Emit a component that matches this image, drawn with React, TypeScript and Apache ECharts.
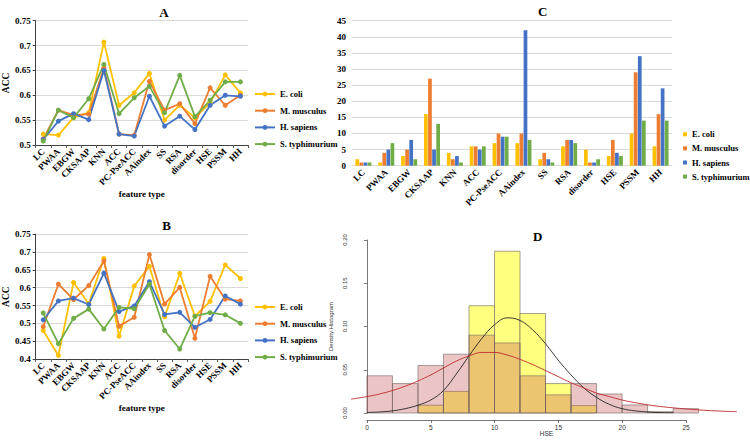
import React, { useEffect, useRef } from "react";
import * as echarts from "echarts";

// ---------- data ----------
const features = ["LC", "PWAA", "EBGW", "CKSAAP", "KNN", "ACC", "PC-PseACC", "AAindex", "SS", "RSA", "disorder", "HSE", "PSSM", "HH"];
const speciesNames = ["E. coli", "M. musculus", "H. sapiens", "S. typhimurium"];
const speciesColors = ["#FFC000", "#ED7D31", "#4472C4", "#70AD47"];

// Panel A (ACC)
const accAEcoli = [0.522, 0.520, 0.555, 0.565, 0.707, 0.580, 0.605, 0.644, 0.550, 0.580, 0.555, 0.585, 0.641, 0.605];
const accAMus = [0.512, 0.570, 0.560, 0.562, 0.655, 0.522, 0.520, 0.628, 0.570, 0.583, 0.543, 0.615, 0.580, 0.600];
const accAHsa = [0.511, 0.548, 0.563, 0.551, 0.650, 0.522, 0.518, 0.598, 0.538, 0.558, 0.531, 0.580, 0.600, 0.598];
const accASty = [0.508, 0.570, 0.555, 0.593, 0.662, 0.563, 0.595, 0.618, 0.565, 0.640, 0.557, 0.590, 0.627, 0.627];

// Panel B (ACC)
const accBEcoli = [0.480, 0.410, 0.615, 0.555, 0.682, 0.464, 0.605, 0.660, 0.518, 0.640, 0.520, 0.562, 0.664, 0.626];
const accBMus = [0.491, 0.610, 0.567, 0.606, 0.675, 0.492, 0.517, 0.693, 0.554, 0.601, 0.458, 0.632, 0.568, 0.563];
const accBHsa = [0.510, 0.563, 0.571, 0.553, 0.641, 0.533, 0.549, 0.617, 0.525, 0.531, 0.489, 0.511, 0.577, 0.554];
const accBSty = [0.529, 0.443, 0.514, 0.540, 0.484, 0.545, 0.541, 0.610, 0.480, 0.428, 0.520, 0.530, 0.524, 0.500];

// Panel C (counts)
const cntEcoli = [2, 1, 3, 16, 4, 6, 7, 7, 2, 6, 5, 3, 10, 6];
const cntMus = [1, 4, 5, 27, 2, 6, 10, 10, 4, 8, 1, 8, 29, 16];
const cntHsa = [1, 5, 8, 5, 3, 5, 9, 42, 2, 8, 1, 4, 34, 24];
const cntSty = [1, 7, 2, 13, 1, 6, 9, 8, 1, 7, 2, 3, 14, 14];

// Panel D (density histogram of HSE)
const binStarts = [0, 2, 4, 6, 8, 10, 12, 14, 16, 18, 20, 22, 24];
const binWidth = 2;
const histPink = [0.043, 0.034, 0.055, 0.068, 0.090, 0.081, 0.043, 0.021, 0.034, 0.022, 0.0093, 0.0015, 0.005];
const histYellow = [0, 0, 0.009, 0.025, 0.124, 0.187, 0.115, 0.034, 0.0085, 0, 0, 0, 0];
const blackCurveX = [0, 1, 2, 3, 4, 5, 6, 7, 8, 9, 10, 11, 12, 13, 14, 15, 16, 17, 18, 19, 20, 21, 22, 23, 24];
const blackCurveY = [0.0006, 0.0012, 0.0025, 0.005, 0.009, 0.015, 0.026, 0.045, 0.066, 0.086, 0.102, 0.110, 0.107, 0.096, 0.080, 0.061, 0.044, 0.029, 0.018, 0.010, 0.005, 0.0025, 0.0012, 0.0005, 0.0002];
const redCurveX = [-1.25, 0, 1, 2, 3, 4, 5, 6, 7, 8, 9, 10, 11, 12, 13, 14, 15, 16, 17, 18, 19, 20, 21, 22, 23, 24, 25, 26, 27, 28, 29];
const redCurveY = [0.016, 0.019, 0.022, 0.026, 0.031, 0.037, 0.044, 0.052, 0.060, 0.066, 0.070, 0.070, 0.067, 0.062, 0.056, 0.049, 0.042, 0.035, 0.029, 0.023, 0.019, 0.015, 0.012, 0.0095, 0.0075, 0.006, 0.0047, 0.0036, 0.0027, 0.002, 0.0015];
const dYTicks = [0, 0.05, 0.1, 0.15, 0.2];

const SERIF = "'Liberation Serif', 'Times New Roman', serif";
const SANS = "'Liberation Sans', Arial, sans-serif";

function lineSeries(name: string, data: number[], color: string, idx: number) {
  return {
    type: "line",
    name,
    xAxisIndex: idx,
    yAxisIndex: idx,
    data,
    symbol: "circle",
    symbolSize: 5,
    color,
    lineStyle: { width: 1.8, color },
    itemStyle: { color },
  };
}

function histSeries(name: string, values: number[], fill: string, z: number) {
  return {
    type: "custom",
    name,
    xAxisIndex: 3,
    yAxisIndex: 3,
    z,
    data: binStarts.map((b, i) => [b, b + binWidth, values[i]]),
    encode: { x: [0, 1], y: 2 },
    renderItem: (params: any, api: any) => {
      const h = api.value(2);
      if (!h) return null;
      const p0 = api.coord([api.value(0), h]);
      const p1 = api.coord([api.value(1), 0]);
      return {
        type: "rect",
        shape: { x: p0[0], y: p0[1], width: p1[0] - p0[0], height: p1[1] - p0[1] },
        style: { fill, stroke: "rgba(110,100,95,0.75)", lineWidth: 0.8 },
      };
    },
  };
}

function catXAxis(grid: number, withTicks: boolean, lineColor: string, nameGap: number, named: boolean) {
  return {
    type: "category",
    gridIndex: grid,
    data: features,
    boundaryGap: true,
    name: named ? "feature type" : "",
    nameLocation: "middle",
    nameGap,
    nameTextStyle: { fontFamily: SERIF, fontWeight: "bold", fontSize: 9, color: "#000" },
    axisLine: { show: true, lineStyle: { color: lineColor, width: 1 } },
    axisTick: { show: withTicks, length: 3, alignWithLabel: false, lineStyle: { color: "#595959" } },
    axisLabel: { interval: 0, rotate: 45, margin: 5, fontFamily: SERIF, fontWeight: "bold", fontSize: 9, color: "#000" },
    splitLine: { show: false },
  };
}

function accYAxis(grid: number, min: number) {
  return {
    type: "value",
    gridIndex: grid,
    min,
    max: 0.75,
    interval: 0.05,
    name: "ACC",
    nameLocation: "middle",
    nameGap: 20,
    nameTextStyle: { fontFamily: SERIF, fontWeight: "bold", fontSize: 9.5, color: "#000" },
    axisLine: { show: true, lineStyle: { color: "#404040", width: 1 } },
    axisTick: { show: true, length: 3, lineStyle: { color: "#404040" } },
    axisLabel: { margin: 5, fontFamily: SERIF, fontWeight: "bold", fontSize: 9, color: "#000" },
    splitLine: { show: true, lineStyle: { color: "#D9D9D9", width: 1 } },
  };
}

function lineLegend(top: number) {
  return {
    data: speciesNames,
    orient: "vertical",
    left: 249,
    top,
    itemWidth: 20,
    itemHeight: 6,
    itemGap: 6.7,
    selectedMode: false,
    textStyle: { fontFamily: SERIF, fontWeight: "bold", fontSize: 8.5, color: "#000", lineHeight: 10 },
  };
}

export default function App() {
  const ref = useRef<HTMLDivElement>(null);

  useEffect(() => {
    document.body.style.margin = "0";
    if (!ref.current) return;
    const chart = echarts.init(ref.current, undefined, { renderer: "svg" });

    const aSets = [accAEcoli, accAMus, accAHsa, accASty];
    const bSets = [accBEcoli, accBMus, accBHsa, accBSty];
    const cSets = [cntEcoli, cntMus, cntHsa, cntSty];

    const titleStyle = { fontFamily: SERIF, fontWeight: "bold", fontSize: 13, fill: "#000" };

    const option: any = {
      animation: false,
      backgroundColor: "#fff",
      graphic: [
        { type: "text", x: 164, y: 12, style: { ...titleStyle, text: "A", textAlign: "center", textVerticalAlign: "middle" } },
        { type: "text", x: 166.7, y: 225, style: { ...titleStyle, text: "B", textAlign: "center", textVerticalAlign: "middle" } },
        { type: "text", x: 542.7, y: 11, style: { ...titleStyle, text: "C", textAlign: "center", textVerticalAlign: "middle" } },
        { type: "text", x: 537.7, y: 236, style: { ...titleStyle, text: "D", textAlign: "center", textVerticalAlign: "middle" } },
      ],
      legend: [
        lineLegend(84),
        lineLegend(297),
        {
          data: speciesNames,
          orient: "vertical",
          left: 678,
          top: 124.3,
          icon: "rect",
          itemWidth: 4,
          itemHeight: 4,
          itemGap: 4.1,
          selectedMode: false,
          textStyle: { fontFamily: SERIF, fontWeight: "bold", fontSize: 8.5, color: "#000", lineHeight: 10 },
        },
      ],
      grid: [
        { left: 32, top: 20.7, width: 216, height: 124.3 },
        { left: 32, top: 234.3, width: 216, height: 124.7 },
        { left: 352, top: 20.7, width: 320, height: 145 },
        { left: 351, top: 240, width: 391, height: 173 },
        { left: 367, top: 419, width: 319, height: 1 },
      ],
      xAxis: [
        catXAxis(0, true, "#404040", 43.5, true),
        catXAxis(1, true, "#404040", 43, true),
        catXAxis(2, false, "#D9D9D9", 40, false),
        {
          type: "value",
          gridIndex: 3,
          min: -1.25,
          max: 29.4,
          name: "HSE",
          nameLocation: "middle",
          nameGap: 16.5,
          nameTextStyle: { fontFamily: SANS, fontSize: 6.5, color: "#333" },
          axisLine: { show: false },
          axisTick: { show: false },
          axisLabel: { show: false },
          splitLine: { show: false },
        },
        {
          type: "value",
          gridIndex: 4,
          min: 0,
          max: 25,
          interval: 5,
          position: "bottom",
          axisLine: { show: true, lineStyle: { color: "#555", width: 0.8 } },
          axisTick: { show: true, length: 3, lineStyle: { color: "#555", width: 0.8 } },
          axisLabel: { margin: 4, fontFamily: SANS, fontSize: 6.5, color: "#333" },
          splitLine: { show: false },
        },
      ],
      yAxis: [
        accYAxis(0, 0.5),
        accYAxis(1, 0.4),
        {
          type: "value",
          gridIndex: 2,
          min: 0,
          max: 45,
          interval: 5,
          axisLine: { show: false },
          axisTick: { show: false },
          axisLabel: { margin: 6, fontFamily: SERIF, fontWeight: "bold", fontSize: 9, color: "#000" },
          splitLine: { show: true, lineStyle: { color: "#D9D9D9", width: 1 } },
        },
        {
          type: "value",
          gridIndex: 3,
          min: 0,
          max: 0.2,
          interval: 0.05,
          name: "Density Histogram",
          nameLocation: "middle",
          nameGap: 10,
          nameTextStyle: { fontFamily: SANS, fontSize: 6, color: "#333" },
          axisLine: { show: true, lineStyle: { color: "#555", width: 0.8 } },
          axisTick: { show: true, length: 3, lineStyle: { color: "#555", width: 0.8 } },
          axisLabel: {
            rotate: 90,
            margin: 3,
            fontFamily: SANS,
            fontSize: 6,
            color: "#333",
            formatter: (v: number) => (dYTicks.includes(Math.round(v * 100) / 100) ? v.toFixed(2) : ""),
          },
          splitLine: { show: false },
        },
        { type: "value", gridIndex: 4, show: false, min: 0, max: 1 },
      ],
      series: [
        ...aSets.map((d, i) => lineSeries(speciesNames[i], d, speciesColors[i], 0)),
        ...bSets.map((d, i) => lineSeries(speciesNames[i], d, speciesColors[i], 1)),
        ...cSets.map((d, i) => ({
          type: "bar",
          name: speciesNames[i],
          xAxisIndex: 2,
          yAxisIndex: 2,
          data: d,
          color: speciesColors[i],
          itemStyle: { color: speciesColors[i] },
          barCategoryGap: "30%",
          barGap: "10%",
        })),
        histSeries("HSE yellow", histYellow, "#FFFF80", 2),
        histSeries("HSE pink", histPink, "rgba(193,75,79,0.32)", 3),
        {
          type: "line",
          name: "black density",
          xAxisIndex: 3,
          yAxisIndex: 3,
          z: 4,
          smooth: 0.4,
          showSymbol: false,
          data: blackCurveX.map((x, i) => [x, blackCurveY[i]]),
          lineStyle: { color: "#222", width: 0.9 },
        },
        {
          type: "line",
          name: "red density",
          xAxisIndex: 3,
          yAxisIndex: 3,
          z: 4,
          smooth: 0.4,
          showSymbol: false,
          data: redCurveX.map((x, i) => [x, redCurveY[i]]),
          lineStyle: { color: "#C0282D", width: 0.9 },
        },
      ],
    };

    chart.setOption(option);
    return () => chart.dispose();
  }, []);

  return <div ref={ref} style={{ width: 750, height: 440 }} />;
}
